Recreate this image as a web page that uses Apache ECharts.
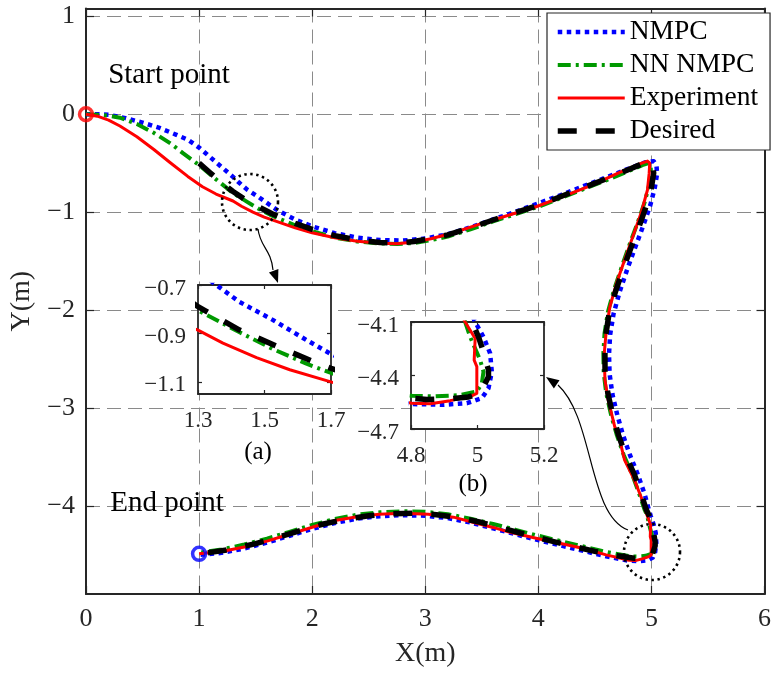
<!DOCTYPE html>
<html>
<head>
<meta charset="utf-8">
<script src="https://cdn.jsdelivr.net/npm/echarts@6/dist/echarts.min.js"></script>
<style>
  html, body { margin: 0; padding: 0; background: #fff; }
  #chart { width: 774px; height: 673px; }
</style>
</head>
<body>
<div id="chart"></div>
<script>
// Trajectories in the X-Y plane, metres: [x, y]
const nmpc = [
  [0,0],[0.1,0],[0.2,-0.005],[0.35,-0.04],[0.5,-0.085],[0.65,-0.14],[0.8,-0.21],[0.9,-0.26],
  [1.0,-0.34],[1.1,-0.44],[1.2,-0.54],[1.3,-0.64],[1.35,-0.695],[1.425,-0.77],[1.526,-0.845],
  [1.626,-0.927],[1.7,-0.985],[1.85,-1.075],[2.0,-1.145],[2.2,-1.215],[2.4,-1.26],[2.6,-1.285],
  [2.8,-1.29],[3.0,-1.27],[3.2,-1.225],[3.4,-1.155],[3.6,-1.075],[3.8,-0.995],[4.0,-0.91],
  [4.2,-0.825],[4.4,-0.735],[4.6,-0.645],[4.8,-0.555],[4.95,-0.49],[5.02,-0.48],[5.045,-0.525],
  [5.05,-0.61],[5.03,-0.75],[4.99,-0.93],[4.93,-1.13],[4.86,-1.35],[4.79,-1.57],[4.72,-1.81],
  [4.665,-2.04],[4.635,-2.25],[4.625,-2.45],[4.63,-2.65],[4.655,-2.86],[4.70,-3.08],[4.75,-3.28],
  [4.81,-3.48],[4.88,-3.68],[4.94,-3.88],[4.975,-4.03],[4.993,-4.10],[5.018,-4.184],[5.038,-4.276],
  [5.043,-4.379],[5.033,-4.472],[5.013,-4.527],[4.968,-4.555],[4.898,-4.564],[4.8,-4.56],
  [4.6,-4.515],[4.4,-4.46],[4.2,-4.405],[4.0,-4.35],[3.8,-4.29],[3.6,-4.23],[3.4,-4.17],
  [3.2,-4.125],[3.0,-4.1],[2.8,-4.095],[2.6,-4.105],[2.4,-4.13],[2.2,-4.175],[2.0,-4.235],
  [1.8,-4.305],[1.6,-4.375],[1.4,-4.435],[1.2,-4.48],[1.0,-4.5]
];
const nnNmpc = [
  [0,0],[0.1,-0.005],[0.2,-0.015],[0.3,-0.035],[0.45,-0.10],[0.6,-0.19],[0.75,-0.30],[0.86,-0.40],
  [1.0,-0.52],[1.15,-0.665],[1.3,-0.805],[1.425,-0.895],[1.526,-0.965],[1.626,-1.025],[1.7,-1.063],
  [1.85,-1.135],[2.0,-1.195],[2.2,-1.26],[2.4,-1.30],[2.6,-1.32],[2.75,-1.325],[2.9,-1.315],
  [3.05,-1.285],[3.2,-1.25],[3.4,-1.175],[3.6,-1.095],[3.8,-1.02],[4.0,-0.945],[4.2,-0.855],
  [4.4,-0.765],[4.6,-0.675],[4.8,-0.58],[4.92,-0.52],[4.975,-0.50],[4.995,-0.56],[4.98,-0.72],
  [4.94,-0.90],[4.88,-1.10],[4.81,-1.32],[4.74,-1.55],[4.67,-1.79],[4.615,-2.02],[4.585,-2.24],
  [4.575,-2.44],[4.578,-2.64],[4.60,-2.85],[4.645,-3.08],[4.695,-3.28],[4.755,-3.48],[4.83,-3.68],
  [4.89,-3.87],[4.94,-4.04],[4.963,-4.10],[4.978,-4.184],[5.008,-4.314],[5.018,-4.379],
  [5.013,-4.444],[4.998,-4.49],[4.948,-4.51],[4.868,-4.517],[4.803,-4.514],[4.6,-4.47],
  [4.4,-4.415],[4.2,-4.36],[4.0,-4.305],[3.8,-4.245],[3.6,-4.185],[3.4,-4.13],[3.2,-4.085],
  [3.0,-4.06],[2.8,-4.055],[2.6,-4.065],[2.4,-4.09],[2.2,-4.135],[2.0,-4.195],[1.8,-4.265],
  [1.6,-4.335],[1.4,-4.395],[1.2,-4.445],[1.0,-4.48]
];
const experiment = [
  [0,0],[0.1,-0.02],[0.2,-0.06],[0.3,-0.12],[0.45,-0.23],[0.6,-0.36],[0.74,-0.49],[0.9,-0.635],
  [1.03,-0.74],[1.15,-0.815],[1.3,-0.886],[1.375,-0.94],[1.476,-1.0],[1.576,-1.05],[1.697,-1.099],
  [1.85,-1.16],[2.0,-1.21],[2.2,-1.262],[2.4,-1.297],[2.6,-1.317],[2.75,-1.322],[2.9,-1.306],
  [3.05,-1.272],[3.25,-1.21],[3.46,-1.13],[3.7,-1.045],[3.98,-0.945],[4.2,-0.85],[4.474,-0.723],
  [4.7,-0.605],[4.908,-0.502],[4.965,-0.478],[4.985,-0.50],[4.98,-0.604],[4.965,-0.774],
  [4.908,-1.012],[4.835,-1.251],[4.763,-1.489],[4.691,-1.727],[4.633,-1.966],[4.604,-2.17],
  [4.583,-2.442],[4.589,-2.715],[4.618,-2.919],[4.676,-3.192],[4.72,-3.33],[4.763,-3.532],
  [4.85,-3.737],[4.908,-3.907],[4.963,-4.10],[4.993,-4.193],[4.99,-4.314],[4.998,-4.35],
  [4.998,-4.50],[4.978,-4.518],[4.918,-4.541],[4.858,-4.559],[4.803,-4.555],[4.6,-4.50],
  [4.4,-4.435],[4.2,-4.385],[4.0,-4.335],[3.75,-4.27],[3.6,-4.22],[3.461,-4.18],[3.25,-4.115],
  [3.027,-4.085],[2.8,-4.075],[2.593,-4.085],[2.4,-4.11],[2.2,-4.15],[2.015,-4.213],[1.8,-4.29],
  [1.6,-4.36],[1.4,-4.42],[1.2,-4.465],[1.0,-4.49]
];
const desired = [
  [1.0,-0.50],[1.1,-0.60],[1.2,-0.70],[1.3,-0.789],[1.425,-0.886],[1.536,-0.952],[1.646,-1.016],
  [1.7,-1.044],[1.85,-1.115],[2.0,-1.175],[2.2,-1.24],[2.4,-1.285],[2.6,-1.31],[2.75,-1.315],
  [2.9,-1.30],[3.05,-1.268],[3.2,-1.232],[3.4,-1.16],[3.6,-1.08],[3.8,-1.005],[4.0,-0.93],
  [4.2,-0.84],[4.4,-0.75],[4.6,-0.66],[4.8,-0.565],[4.92,-0.505],[4.98,-0.49],[5.01,-0.52],
  [5.02,-0.60],[5.0,-0.75],[4.95,-0.95],[4.89,-1.15],[4.82,-1.36],[4.75,-1.58],[4.68,-1.82],
  [4.625,-2.04],[4.597,-2.25],[4.589,-2.45],[4.59,-2.65],[4.615,-2.85],[4.66,-3.08],[4.71,-3.28],
  [4.77,-3.48],[4.85,-3.68],[4.91,-3.88],[4.955,-4.04],[4.988,-4.119],[5.003,-4.184],[5.02,-4.28],
  [5.033,-4.37],[5.033,-4.407],[5.008,-4.50],[4.973,-4.52],[4.918,-4.53],[4.848,-4.535],
  [4.7,-4.51],[4.5,-4.465],[4.3,-4.41],[4.1,-4.355],[3.9,-4.295],[3.7,-4.235],[3.5,-4.17],
  [3.3,-4.12],[3.1,-4.09],[2.9,-4.075],[2.7,-4.08],[2.5,-4.10],[2.3,-4.135],[2.1,-4.185],
  [1.9,-4.25],[1.7,-4.32],[1.5,-4.385],[1.3,-4.44],[1.1,-4.475],[1.0,-4.49]
];
const startPoint = [[0, 0]];
const endPoint = [[1.0, -4.49]];

const seriesNames = ['NMPC', 'NN NMPC', 'Experiment', 'Desired'];

// Axis ranges and tick values
const mainX = { min: 0, max: 6, step: 1 };
const mainY = { min: -4.9, max: 1.08, ticks: [-4, -3, -2, -1, 0, 1] };
const zoomA = { xMin: 1.3, xMax: 1.7, xStep: 0.2, yMin: -1.15, yMax: -0.7, yTicks: [-1.1, -0.9, -0.7] };
const zoomB = { xMin: 4.8, xMax: 5.2, xStep: 0.2, yMin: -4.7, yMax: -4.1, yStep: 0.3 };

const FONT = 'Liberation Serif';
const AXIS_COLOR = '#262626';
const fmtNum = v => String(+(+v).toFixed(2)).replace('-', '\u2212');
// inset y labels sit a little below their ticks
const fmtLow = v => '{low|' + fmtNum(v) + '}';

const styles = [
  { color: '#0000ff', width: 4.5, type: [4.5, 4.5], cap: 'butt' },
  { color: '#009900', width: 4, type: [13, 5, 3, 5], cap: 'butt' },
  { color: '#ff0000', width: 3, type: 'solid', cap: 'butt' },
  { color: '#000000', width: 5.5, type: [19, 19], cap: 'butt' }
];
const datasets = [nmpc, nnNmpc, experiment, desired];

function lineSeries(idx, axisIndex, z) {
  const st = styles[idx];
  return {
    type: 'line',
    name: seriesNames[idx],
    xAxisIndex: axisIndex,
    yAxisIndex: axisIndex,
    data: datasets[idx],
    showSymbol: false,
    symbol: 'none',
    clip: true,
    z: z + idx * 0.01,
    animation: false,
    color: st.color,
    lineStyle: { color: st.color, width: st.width, type: st.type, cap: st.cap, join: 'round' }
  };
}

function boxAxes(gridIndex, x, y, opts) {
  const tickLen = opts.tickLen;
  const xa = [], ya = [];
  const base = {
    gridIndex: gridIndex, type: 'value',
    axisLine: { show: true, onZero: false, lineStyle: { color: AXIS_COLOR, width: opts.lineWidth } },
    splitLine: { show: false },
    z: opts.z
  };
  const xCommon = Object.assign({}, base, { min: x.min, max: x.max, interval: x.step });
  const yCommon = Object.assign({}, base, { min: y.min, max: y.max });
  if (y.step) yCommon.interval = y.step;
  const gridLine = { show: true, lineStyle: { color: '#8a8a8a', width: 1, type: [14, 7] } };
  xa.push(Object.assign({}, xCommon, {
    position: 'bottom',
    axisTick: { show: true, inside: true, length: tickLen, lineStyle: { color: AXIS_COLOR, width: 1.2 } },
    axisLabel: { show: true, margin: opts.xMargin, color: AXIS_COLOR, fontFamily: FONT, fontSize: opts.fontSize, formatter: fmtNum },
    splitLine: opts.grid ? gridLine : { show: false }
  }, opts.xName || {}));
  xa.push(Object.assign({}, xCommon, {
    position: 'top',
    axisTick: { show: true, inside: true, length: tickLen, lineStyle: { color: AXIS_COLOR, width: 1.2 } },
    axisLabel: { show: false }
  }));
  const yTick = { show: true, inside: true, length: tickLen, lineStyle: { color: AXIS_COLOR, width: 1.2 } };
  const yLab = { show: true, margin: opts.yMargin, color: AXIS_COLOR, fontFamily: FONT, fontSize: opts.fontSize,
                 formatter: opts.lowLabels ? fmtLow : fmtNum };
  if (opts.lowLabels) {
    yLab.rich = { low: { fontFamily: FONT, fontSize: opts.fontSize, color: AXIS_COLOR, padding: [7, 0, 0, 0] } };
  }
  if (y.ticks) { yTick.customValues = y.ticks; yLab.customValues = y.ticks; }
  ya.push(Object.assign({}, yCommon, {
    position: 'left',
    axisTick: yTick,
    axisLabel: yLab,
    splitLine: opts.grid ? gridLine : { show: false }
  }, opts.yName || {}));
  ya.push(Object.assign({}, yCommon, {
    position: 'right',
    axisTick: Object.assign({}, yTick),
    axisLabel: { show: false }
  }));
  return { xa, ya };
}

const main = boxAxes(0, mainX, mainY, {
  tickLen: 8, lineWidth: 2, fontSize: 26, xMargin: 12, yMargin: 11, grid: true, z: 0,
  xName: { name: 'X(m)', nameLocation: 'middle', nameGap: 46,
           nameTextStyle: { fontFamily: FONT, fontSize: 28, color: AXIS_COLOR } },
  yName: { name: 'Y(m)', nameLocation: 'middle', nameGap: 50,
           nameTextStyle: { fontFamily: FONT, fontSize: 28, color: AXIS_COLOR } }
});
const insetA = boxAxes(1,
  { min: zoomA.xMin, max: zoomA.xMax, step: zoomA.xStep },
  { min: zoomA.yMin, max: zoomA.yMax, ticks: zoomA.yTicks },
  { tickLen: 4, lineWidth: 1.8, fontSize: 23, xMargin: 15, yMargin: 12, lowLabels: true, grid: false, z: 11 });
const insetB = boxAxes(2,
  { min: zoomB.xMin, max: zoomB.xMax, step: zoomB.xStep },
  { min: zoomB.yMin, max: zoomB.yMax, step: zoomB.yStep },
  { tickLen: 4, lineWidth: 1.8, fontSize: 23, xMargin: 15, yMargin: 12, lowLabels: true, grid: false, z: 11 });

const xAxes = [].concat(main.xa, insetA.xa, insetB.xa);
const yAxes = [].concat(main.ya, insetA.ya, insetB.ya);

const series = [];
for (let i = 0; i < 4; i++) series.push(lineSeries(i, 0, 2));
for (let i = 0; i < 4; i++) series.push(lineSeries(i, 2, 12));
for (let i = 0; i < 4; i++) series.push(lineSeries(i, 4, 12));
series.push({
  type: 'scatter', name: 'start', xAxisIndex: 0, yAxisIndex: 0, data: startPoint,
  symbol: 'circle', symbolSize: 13, z: 6, animation: false, silent: true,
  itemStyle: { color: 'rgba(255,255,255,0)', borderColor: '#ff0000', borderWidth: 3.5 }
});
series.push({
  type: 'scatter', name: 'end', xAxisIndex: 0, yAxisIndex: 0, data: endPoint,
  symbol: 'circle', symbolSize: 13, z: 6, animation: false, silent: true,
  itemStyle: { color: 'rgba(255,255,255,0)', borderColor: '#0000ff', borderWidth: 3.5 }
});

// annotation arrows: curved lead line plus filled head
function arrowHead(tip, from, len, half) {
  const dx = tip[0] - from[0], dy = tip[1] - from[1];
  const d = Math.hypot(dx, dy), ux = dx / d, uy = dy / d;
  const bx = tip[0] - ux * len, by = tip[1] - uy * len;
  return [[tip[0], tip[1]], [bx - uy * half, by + ux * half], [bx + uy * half, by - ux * half]];
}

const textStyleBase = { fontFamily: FONT, fill: '#000' };
const graphics = [
  { type: 'circle', shape: { cx: 250, cy: 202, r: 28 }, z: 8,
    style: { fill: 'none', stroke: '#000', lineWidth: 2.6, lineDash: [2.4, 3.6] } },
  { type: 'circle', shape: { cx: 652, cy: 552, r: 28 }, z: 8,
    style: { fill: 'none', stroke: '#000', lineWidth: 2.6, lineDash: [2.4, 3.6] } },
  { type: 'bezierCurve', z: 8,
    shape: { x1: 258, y1: 229, cpx1: 260, cpy1: 247, cpx2: 271, cpy2: 249, x2: 273, y2: 270 },
    style: { stroke: '#000', lineWidth: 1.2, fill: 'none' } },
  { type: 'polygon', z: 8, shape: { points: arrowHead([278, 283], [272, 266], 13, 5) },
    style: { fill: '#000' } },
  { type: 'bezierCurve', z: 8,
    shape: { x1: 628, y1: 530, cpx1: 588, cpy1: 515, cpx2: 594, cpy2: 418, x2: 558, y2: 385 },
    style: { stroke: '#000', lineWidth: 1.2, fill: 'none' } },
  { type: 'polygon', z: 8, shape: { points: arrowHead([546, 377], [562, 388], 13, 5) },
    style: { fill: '#000' } },
  { type: 'text', z: 9, x: 169, y: 75,
    style: Object.assign({ text: 'Start point', fontSize: 29, align: 'center', verticalAlign: 'middle' }, textStyleBase) },
  { type: 'text', z: 9, x: 167, y: 503,
    style: Object.assign({ text: 'End point', fontSize: 29, align: 'center', verticalAlign: 'middle' }, textStyleBase) },
  { type: 'text', z: 9, x: 258, y: 452,
    style: Object.assign({ text: '(a)', fontSize: 25, align: 'center', verticalAlign: 'middle' }, textStyleBase) },
  { type: 'text', z: 9, x: 473, y: 484,
    style: Object.assign({ text: '(b)', fontSize: 25, align: 'center', verticalAlign: 'middle' }, textStyleBase) }
];

// legend entries carry the line look of their series
const legendData = seriesNames.map((name, i) => ({
  name: name,
  itemStyle: { color: 'rgba(0,0,0,0)', borderWidth: 0, opacity: 0 },
  lineStyle: { color: styles[i].color, width: styles[i].width, type: styles[i].type, cap: 'butt', opacity: 1 }
}));

const option = {
  animation: false,
  backgroundColor: '#ffffff',
  grid: [
    { left: 81, right: 2, top: 8.5, bottom: 79, containLabel: false, z: 0 },
    { left: 198, top: 285, width: 133, height: 109, show: true, backgroundColor: '#ffffff',
      borderColor: AXIS_COLOR, borderWidth: 0, z: 10 },
    { left: 411, top: 322, width: 133, height: 107, show: true, backgroundColor: '#ffffff',
      borderColor: AXIS_COLOR, borderWidth: 0, z: 10 }
  ],
  legend: {
    data: legendData,
    orient: 'vertical',
    left: 547, top: 13,
    padding: [5, 12, 5, 8],
    itemWidth: 67, itemHeight: 28, itemGap: 5,
    backgroundColor: '#ffffff',
    borderColor: AXIS_COLOR, borderWidth: 1.2, borderRadius: 0,
    itemStyle: { opacity: 0 },
    textStyle: { fontFamily: FONT, fontSize: 27.5, color: '#000', lineHeight: 28 },
    z: 20,
    selectedMode: false
  },
  xAxis: xAxes,
  yAxis: yAxes,
  series: series,
  graphic: graphics
};

const chart = echarts.init(document.getElementById('chart'), null, { renderer: 'canvas' });
chart.setOption(option);
</script>
</body>
</html>
